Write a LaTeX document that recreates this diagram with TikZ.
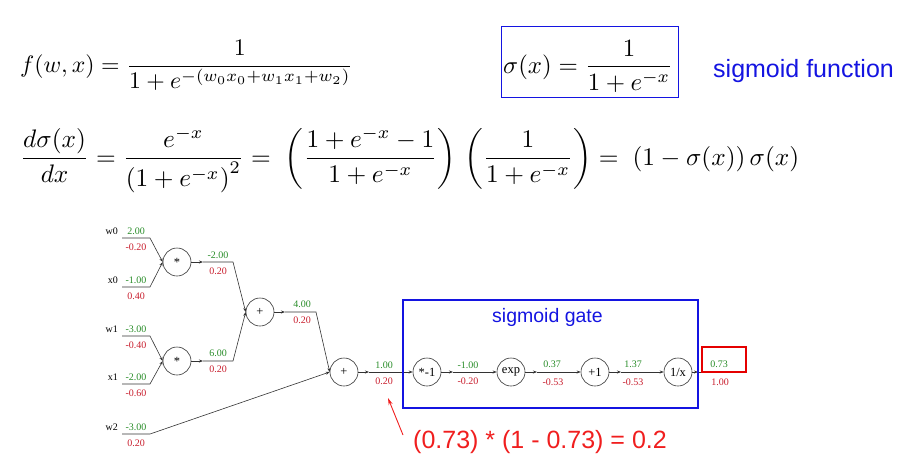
\documentclass[tikz,border=0pt]{standalone}
\usepackage{fontspec}
\usepackage{graphicx}
\usetikzlibrary{arrows.meta}
\newfontfamily\serfont{Liberation Serif}
\newfontfamily\arfont{Liberation Sans}
\definecolor{gval}{RGB}{40,140,40}
\definecolor{rval}{RGB}{200,30,45}
\definecolor{gblue}{RGB}{20,20,225}
\definecolor{annred}{RGB}{240,30,30}
\begin{document}
\begin{tikzpicture}[x=1pt,y=-1pt,
  op/.style={circle,draw=black!80,line width=0.6pt,minimum size=28pt,inner sep=0pt,font=\serfont\fontsize{12.5}{14}\selectfont},
  gv/.style={text=gval,font=\serfont\fontsize{10}{12}\selectfont,inner sep=0pt},
  rv/.style={text=rval,font=\serfont\fontsize{10}{12}\selectfont,inner sep=0pt},
  nm/.style={anchor=east,font=\serfont\fontsize{10}{12}\selectfont,inner sep=0pt},
  wire/.style={draw=black!80,line width=0.6pt,-{Stealth[length=4pt,width=3pt]}},
  bluebox/.style={draw=gblue,line width=1.8pt},
  redbox/.style={draw=red!90!black,line width=1.8pt},
  formula/.style={anchor=base west,inner sep=0pt},
  bluetext/.style={text=gblue,font=\arfont\fontsize{25}{30}\selectfont,inner sep=0pt},
]
\useasboundingbox (0,0) rectangle (911,472);

% ---------- formulas ----------
\node[formula] (f1) at (20,72) {\resizebox{333pt}{!}{$\displaystyle f(w,x)=\frac{1}{1+e^{-(w_0x_0+w_1x_1+w_2)}}$}};
\node[formula] (f2) at (503,73) {\resizebox{170pt}{!}{$\displaystyle \sigma(x)=\frac{1}{1+e^{-x}}$}};
\draw[draw=gblue,line width=1pt] (501,26) rectangle (678,97);
\node[bluetext,anchor=base west] (sf) at (713,77) {sigmoid function};
\node[formula] (f3) at (20,165) {\resizebox{779pt}{!}{$\displaystyle \frac{d\sigma(x)}{dx}=\frac{e^{-x}}{\left(1+e^{-x}\right)^2}=\;\left(\frac{1+e^{-x}-1}{1+e^{-x}}\right)\,\left(\frac{1}{1+e^{-x}}\right)=\;\left(1-\sigma(x)\right)\sigma(x)$}};

% ---------- graph nodes ----------
\node[op] (m1) at (177,262) {*};
\node[op] (m2) at (177,361) {*};
\node[op] (a1) at (260,312) {+};
\node[op] (a2) at (344,372) {+};
\node[op] (n1) at (427,372) {*-1};
\node[op] (ex) at (511,372) {exp};
\node[op] (p1) at (595,372) {+1};
\node[op] (iv) at (678,372) {1/x};

% ---------- wire coordinates ----------
\coordinate (w0s) at (122,238); \coordinate (w0e) at (150,238);
\coordinate (x0s) at (122,287); \coordinate (x0e) at (150,287);
\coordinate (w1s) at (122,336); \coordinate (w1e) at (150,336);
\coordinate (x1s) at (122,384); \coordinate (x1e) at (150,384);
\coordinate (w2s) at (122,434); \coordinate (w2e) at (150,434);
\coordinate (m1s) at (203,262); \coordinate (m1e) at (233,262);
\coordinate (m2s) at (203,361); \coordinate (m2e) at (233,361);
\coordinate (a1s) at (285,312); \coordinate (a1e) at (316,312);
\coordinate (a2s) at (369,372);
\coordinate (n1s) at (453,372);
\coordinate (exs) at (537,372);
\coordinate (p1s) at (621,372);
\coordinate (ivs) at (698,372); \coordinate (ive) at (735,372);

% input wires
\draw[wire] (w0s) -- (w0e) -- (m1.west);
\draw[wire] (x0s) -- (x0e) -- (m1.west);
\draw[wire] (w1s) -- (w1e) -- (m2.west);
\draw[wire] (x1s) -- (x1e) -- (m2.west);
\draw[wire] (w2s) -- (w2e) -- (a2.west);
% internal wires
\draw[wire] (m1.east) -- (m1s);
\draw[wire] (m1s) -- (m1e) -- (a1.west);
\draw[wire] (m2.east) -- (m2s);
\draw[wire] (m2s) -- (m2e) -- (a1.west);
\draw[wire] (a1.east) -- (a1s);
\draw[wire] (a1s) -- (a1e) -- (a2.west);
\draw[wire] (a2.east) -- (a2s);
\draw[wire] (a2s) -- (n1.west);
\draw[wire] (n1.east) -- (n1s);
\draw[wire] (n1s) -- (ex.west);
\draw[wire] (ex.east) -- (exs);
\draw[wire] (exs) -- (p1.west);
\draw[wire] (p1.east) -- (p1s);
\draw[wire] (p1s) -- (iv.west);
\draw[wire] (iv.east) -- (ivs);
\draw[draw=black!80,line width=0.6pt] (ivs) -- (ive);

% input names
\node[nm] (lw0) at (118,231) {w0};
\node[nm] (lx0) at (118,280) {x0};
\node[nm] (lw1) at (118,329) {w1};
\node[nm] (lx1) at (118,377) {x1};
\node[nm] (lw2) at (118,427) {w2};

% values
\node[gv] (gw0) at (136,231) {2.00};   \node[rv] (rw0) at (136,247) {-0.20};
\node[gv] (gx0) at (136,280) {-1.00};  \node[rv] (rx0) at (136,296) {0.40};
\node[gv] (gw1) at (136,329) {-3.00};  \node[rv] (rw1) at (136,345) {-0.40};
\node[gv] (gx1) at (136,377) {-2.00};  \node[rv] (rx1) at (136,393) {-0.60};
\node[gv] (gw2) at (136,427) {-3.00};  \node[rv] (rw2) at (136,443) {0.20};
\node[gv] (gm1) at (218,255) {-2.00};  \node[rv] (rm1) at (218,271) {0.20};
\node[gv] (gm2) at (218,353) {6.00};   \node[rv] (rm2) at (218,369) {0.20};
\node[gv] (ga1) at (302,304) {4.00};   \node[rv] (ra1) at (302,320) {0.20};
\node[gv] (ga2) at (384,365) {1.00};   \node[rv] (ra2) at (384,381) {0.20};
\node[gv] (gn1) at (468,365) {-1.00};  \node[rv] (rn1) at (468,381) {-0.20};
\node[gv] (gex) at (552,364) {0.37};   \node[rv] (rex) at (553,382) {-0.53};
\node[gv] (gp1) at (633,364) {1.37};   \node[rv] (rp1) at (633,382) {-0.53};
\node[gv] (giv) at (719,364) {0.73};   \node[rv] (riv) at (720,382) {1.00};

% boxes
\draw[bluebox] (403,300) rectangle (698,408);
\node[text=gblue,font=\arfont\fontsize{19.5}{24}\selectfont,inner sep=0pt,anchor=base west] (sg) at (492,322) {sigmoid gate};
\draw[redbox] (702,347) rectangle (746,372);

% annotation
\coordinate (arT) at (403,435);
\coordinate (arH) at (388,398);
\draw[annred,line width=0.9pt,-{Stealth[length=7pt,width=4pt]}] (arT) -- (arH);
\node[text=annred,font=\arfont\fontsize{25}{30}\selectfont,inner sep=0pt,anchor=base west] (ann) at (413,448) {(0.73) * (1 - 0.73) = 0.2};
\end{tikzpicture}
\end{document}
